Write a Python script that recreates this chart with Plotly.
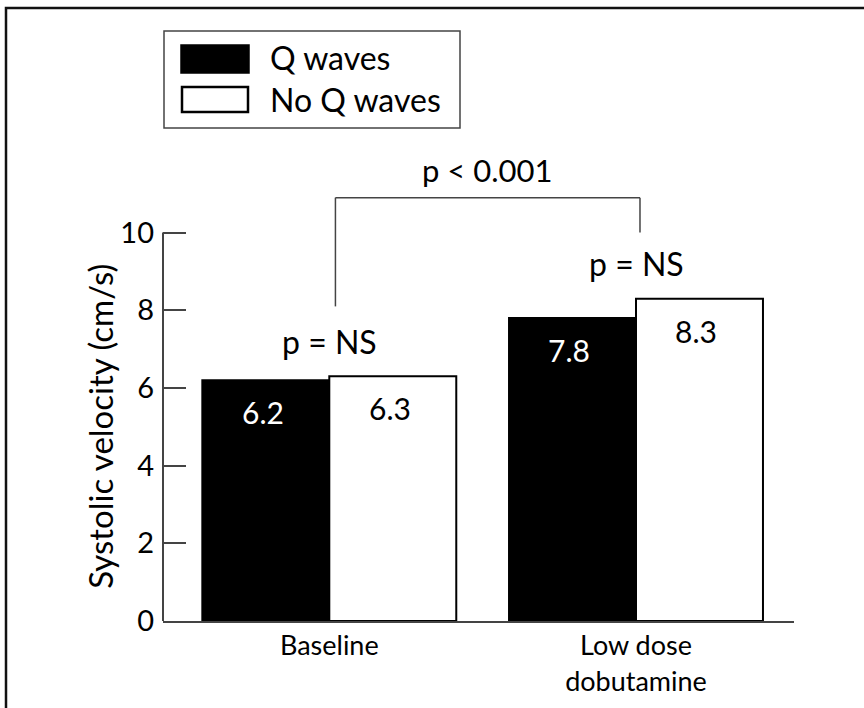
import plotly.graph_objects as go

categories = ["Baseline", "Low dose<br>dobutamine"]
series_names = ["Q waves", "No Q waves"]
q_waves = [6.2, 7.8]
no_q_waves = [6.3, 8.3]
y_ticks = [0, 2, 4, 6, 8, 10]
y_title = "Systolic velocity (cm/s)"
p_overall = "p < 0.001"
p_groups = ["p = NS", "p = NS"]

W, H = 864, 708
L, R, T, B = 163, 794, 8, 621
PPU = 38.84  # pixels per y unit
FONT = "Lato, 'DejaVu Sans', sans-serif"


def px_x(x):
    return (x - L) / (R - L)


def px_y(y):
    return (B - y) / (B - T)


y_top = (B - T) / PPU
x_c0, x_unit = 329.3, 306.7

fig = go.Figure()
fig.add_trace(go.Bar(x=categories, y=q_waves, name=series_names[0],
                     marker=dict(color="black", line=dict(color="black", width=2))))
fig.add_trace(go.Bar(x=categories, y=no_q_waves, name=series_names[1],
                     marker=dict(color="white", line=dict(color="black", width=2))))

half = 0.207
shapes = []
annotations = []

# value labels
for i, v in enumerate(q_waves):
    annotations.append(dict(x=i - half - 0.01, y=v, xref="x", yref="y", text=str(v), showarrow=False,
                            yshift=-32, font=dict(color="white", size=30, family=FONT)))
for i, v in enumerate(no_q_waves):
    annotations.append(dict(x=i + half - 0.01, y=v, xref="x", yref="y", text=str(v), showarrow=False,
                            yshift=-32, font=dict(color="black", size=30, family=FONT)))

# p = NS labels
for i, txt in enumerate(p_groups):
    top = max(q_waves[i], no_q_waves[i])
    annotations.append(dict(x=i, y=top, xref="x", yref="y", text=txt, showarrow=False,
                            yshift=35, font=dict(color="black", size=32, family=FONT)))

# bracket
br_y = 10.9
bx0, bx1 = 0.02, 1.013
shapes.append(dict(type="line", xref="x", yref="y", x0=bx0, x1=bx1, y0=br_y, y1=br_y,
                   line=dict(color="#444", width=1.5)))
shapes.append(dict(type="line", xref="x", yref="y", x0=bx0, x1=bx0, y0=br_y, y1=8.1,
                   line=dict(color="#444", width=1.5)))
shapes.append(dict(type="line", xref="x", yref="y", x0=bx1, x1=bx1, y0=br_y, y1=10.0,
                   line=dict(color="#444", width=1.5)))
annotations.append(dict(x=0.515, y=br_y, xref="x", yref="y", text=p_overall, showarrow=False,
                        yshift=28, font=dict(color="black", size=31, family=FONT)))

# y axis line (only 0..10)
shapes.append(dict(type="line", xref="paper", yref="y", x0=0, x1=0, y0=0, y1=10,
                   line=dict(color="#444", width=2)))

# y axis title centred on the 0-10 span
annotations.append(dict(x=px_x(100), y=5, xref="paper", yref="y", text=y_title, showarrow=False,
                        textangle=-90, xanchor="center", yanchor="middle",
                        font=dict(color="black", size=33, family=FONT)))

# frame (top and left edges visible; image cropped)
shapes.append(dict(type="rect", xref="paper", yref="paper",
                   x0=px_x(6), x1=px_x(900), y0=px_y(760), y1=px_y(8),
                   line=dict(color="#111", width=2.5), fillcolor="rgba(0,0,0,0)"))

# legend box
shapes.append(dict(type="rect", xref="paper", yref="paper",
                   x0=px_x(164), x1=px_x(460), y0=px_y(128), y1=px_y(31),
                   line=dict(color="#444", width=1.5), fillcolor="white"))
shapes.append(dict(type="rect", xref="paper", yref="paper",
                   x0=px_x(181), x1=px_x(249), y0=px_y(73), y1=px_y(45),
                   line=dict(color="black", width=1.5), fillcolor="black"))
shapes.append(dict(type="rect", xref="paper", yref="paper",
                   x0=px_x(182), x1=px_x(248), y0=px_y(112), y1=px_y(87),
                   line=dict(color="black", width=2.5), fillcolor="white"))
annotations.append(dict(x=px_x(268), y=px_y(58), xref="paper", yref="paper", text=series_names[0],
                        showarrow=False, xanchor="left", yanchor="middle",
                        font=dict(color="black", size=32, family=FONT)))
annotations.append(dict(x=px_x(268), y=px_y(99), xref="paper", yref="paper", text=series_names[1],
                        showarrow=False, xanchor="left", yanchor="middle",
                        font=dict(color="black", size=32, family=FONT)))

fig.update_layout(
    width=W, height=H,
    margin=dict(l=L, r=W - R, t=T, b=H - B, pad=0),
    paper_bgcolor="white", plot_bgcolor="white",
    barmode="group", bargap=0.172, bargroupgap=0,
    showlegend=False,
    font=dict(family=FONT, color="black"),
    shapes=shapes, annotations=annotations,
    xaxis=dict(type="category", range=[-(x_c0 - L) / x_unit, 1 + (R - 636) / x_unit],
               showline=True, linecolor="#444", linewidth=2, ticks="",
               showgrid=False, zeroline=False,
               tickfont=dict(size=27, family=FONT, color="black")),
    yaxis=dict(range=[0, y_top], tickvals=y_ticks, ticks="inside", ticklen=23,
               tickwidth=1.5, tickcolor="#444", showline=False, showgrid=False,
               zeroline=False, ticklabelstandoff=8,
               tickfont=dict(size=29, family=FONT, color="black")),
)

fig.write_html("out.html", config={"displayModeBar": False},
               post_script="document.body.style.margin='0px';")
